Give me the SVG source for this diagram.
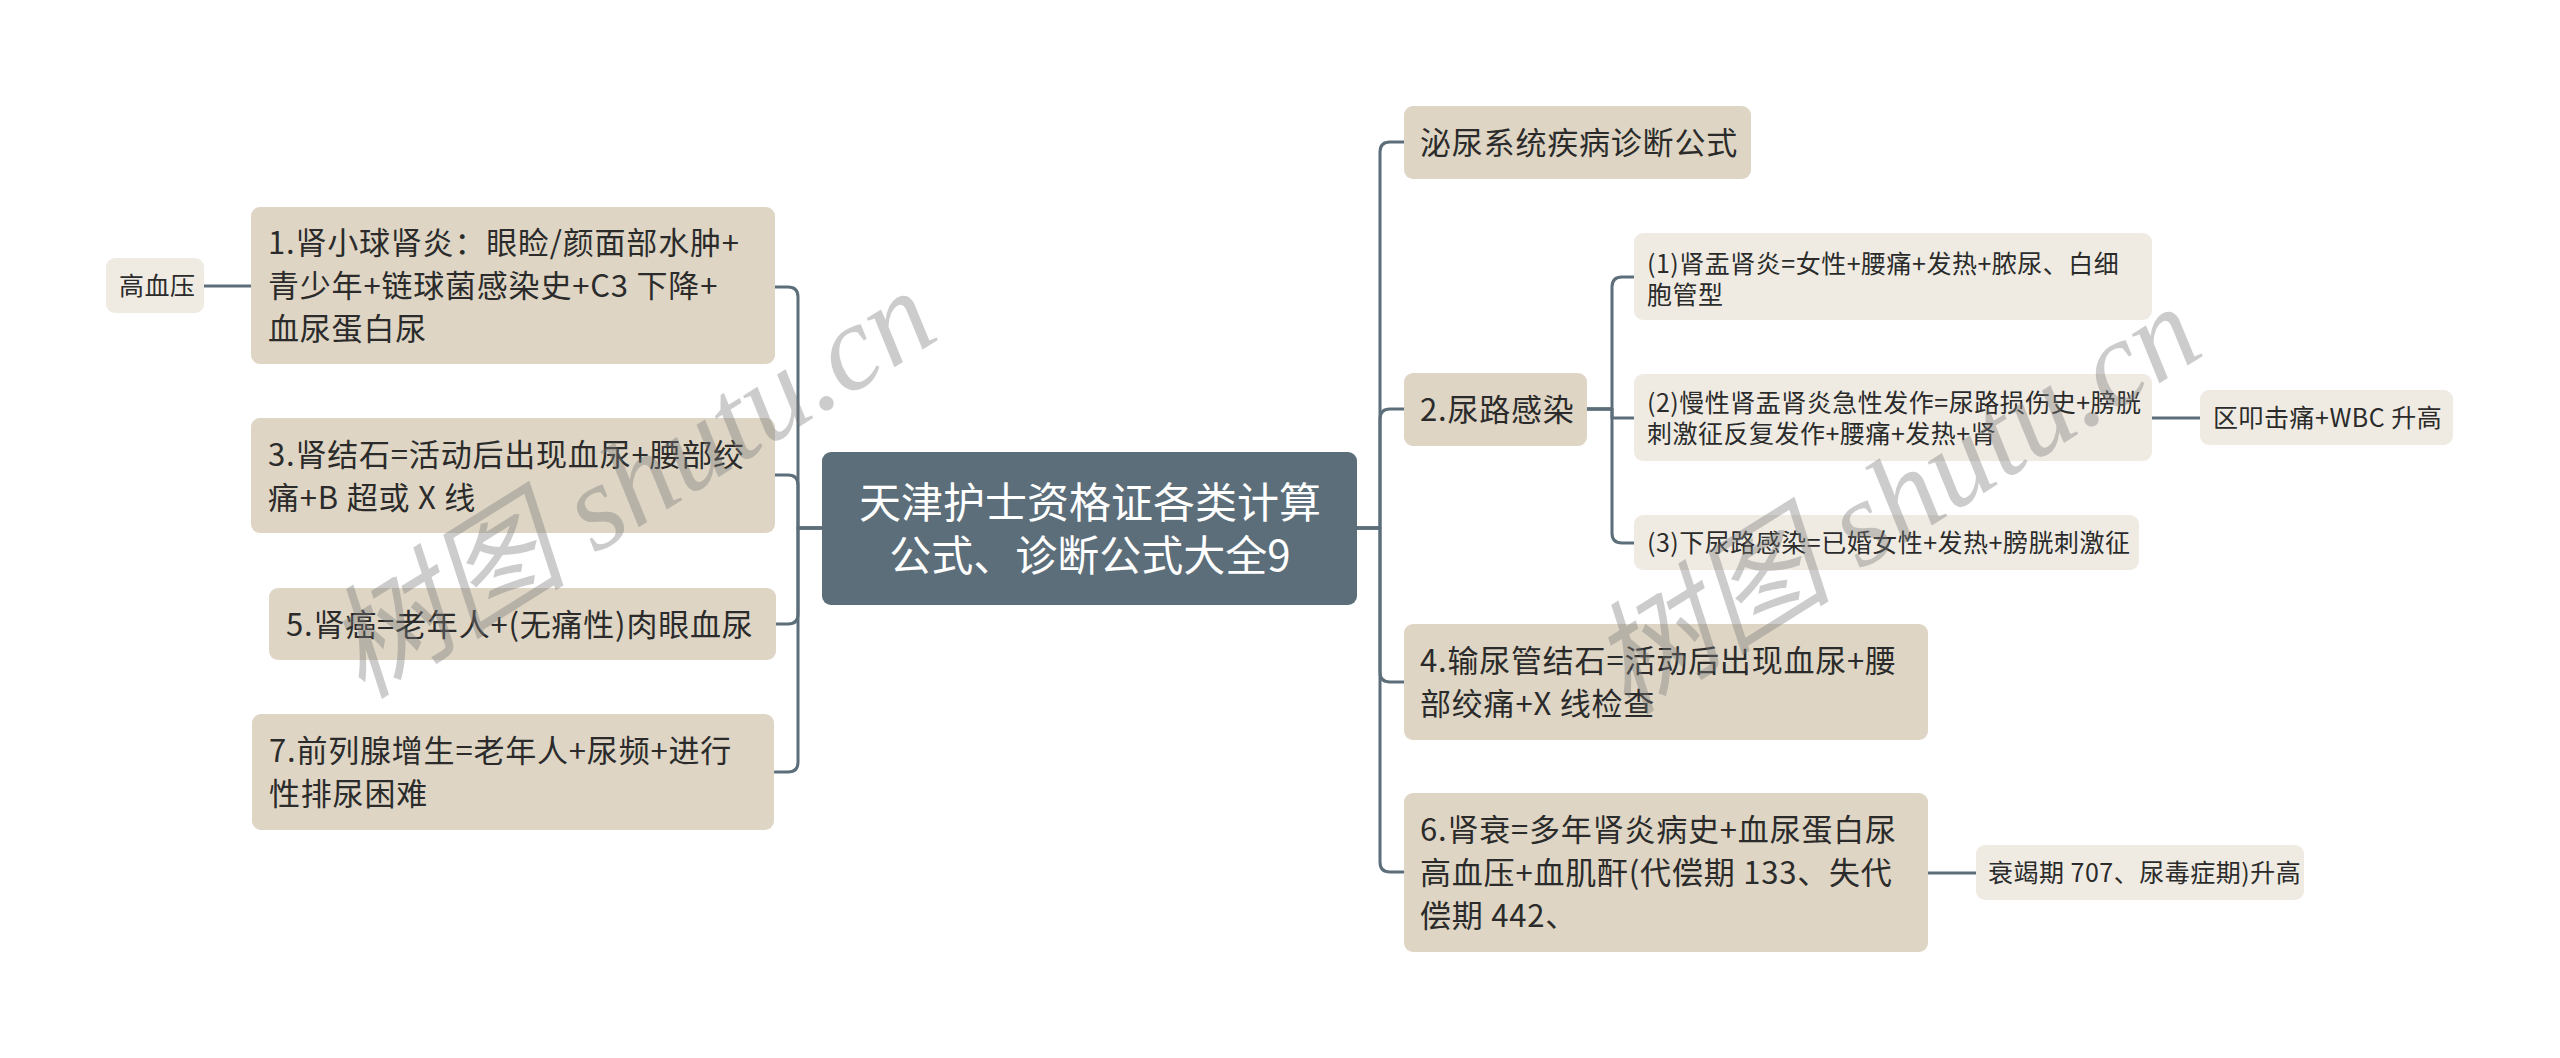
<svg xmlns="http://www.w3.org/2000/svg" width="2560" height="1058" viewBox="0 0 2560 1058">
<style>
.l1{fill:#ded5c4}
.l2{fill:#efebe3}
.root{fill:#5c6e7a}
.t1{font-family:"Noto Sans CJK SC","Noto Sans",sans-serif;font-size:31px;letter-spacing:0.8px;fill:#2b2b2b}
.t2{font-family:"Noto Sans CJK SC","Noto Sans",sans-serif;font-size:25px;letter-spacing:0.5px;fill:#2b2b2b}
.t0{font-family:"Noto Sans CJK SC","Noto Sans",sans-serif;font-size:42px;fill:#ffffff;text-anchor:middle}
.c{fill:none;stroke:#5c6e7a;stroke-width:3;stroke-linecap:round;stroke-linejoin:round}
.wm{font-family:"Liberation Serif","Noto Sans CJK SC",serif;font-style:italic;font-size:122px;fill:#7a7a7a;opacity:0.38}
</style>
<rect width="2560" height="1058" fill="#ffffff"/>
<g id="connectors">
<path class="c" d="M822,528 H798 V297 Q798,287 788,287 H775"/>
<path class="c" d="M822,528 H798 V485 Q798,475 788,475 H775"/>
<path class="c" d="M822,528 H798 V614 Q798,624 788,624 H775"/>
<path class="c" d="M822,528 H798 V762 Q798,772 788,772 H775"/>
<path class="c" d="M251,286 H204"/>
<path class="c" d="M1357,528 H1380 V152 Q1380,142 1390,142 H1404"/>
<path class="c" d="M1357,528 H1380 V419 Q1380,409 1390,409 H1404"/>
<path class="c" d="M1357,528 H1380 V672 Q1380,682 1390,682 H1404"/>
<path class="c" d="M1357,528 H1380 V862 Q1380,872 1390,872 H1404"/>
<path class="c" d="M1587,409 H1612 V287 Q1612,277 1622,277 H1634"/>
<path class="c" d="M1587,409 H1612 V418 H1634"/>
<path class="c" d="M1587,409 H1612 V533 Q1612,543 1622,543 H1634"/>
<path class="c" d="M2152,418 H2200"/>
<path class="c" d="M1928,873 H1976"/>
</g>
<g id="root">
<rect class="root" x="822" y="452" width="535" height="153" rx="9"/>
<text class="t0" x="1090" y="517.5">天津护士资格证各类计算</text>
<text class="t0" x="1090" y="571">公式、诊断公式大全9</text>
</g>
<g id="n1">
<rect class="l1" x="251" y="207" width="524" height="157" rx="9"/>
<text class="t1" x="268" y="254">1.肾小球肾炎：眼睑/颜面部水肿+</text>
<text class="t1" x="268" y="297">青少年+链球菌感染史+C3 下降+</text>
<text class="t1" x="268" y="340">血尿蛋白尿</text>
</g>
<g id="n1a">
<rect class="l2" x="106" y="258" width="98" height="55" rx="9"/>
<text class="t2" x="119" y="294.5">高血压</text>
</g>
<g id="n3">
<rect class="l1" x="251" y="418" width="524" height="115" rx="9"/>
<text class="t1" x="268" y="466">3.肾结石=活动后出现血尿+腰部绞</text>
<text class="t1" x="268" y="509">痛+B 超或 X 线</text>
</g>
<g id="n5">
<rect class="l1" x="269" y="588" width="507" height="72" rx="9"/>
<text class="t1" x="286" y="635.5">5.肾癌=老年人+(无痛性)肉眼血尿</text>
</g>
<g id="n7">
<rect class="l1" x="252" y="714" width="522" height="116" rx="9"/>
<text class="t1" x="269" y="762">7.前列腺增生=老年人+尿频+进行</text>
<text class="t1" x="269" y="805">性排尿困难</text>
</g>
<g id="r0">
<rect class="l1" x="1404" y="106" width="347" height="73" rx="9"/>
<text class="t1" x="1420" y="154">泌尿系统疾病诊断公式</text>
</g>
<g id="r2">
<rect class="l1" x="1404" y="373" width="183" height="73" rx="9"/>
<text class="t1" x="1420" y="421">2.尿路感染</text>
</g>
<g id="r2a">
<rect class="l2" x="1634" y="233" width="518" height="87" rx="9"/>
<text class="t2" x="1647" y="272.5">(1)肾盂肾炎=女性+腰痛+发热+脓尿、白细</text>
<text class="t2" x="1647" y="303.5">胞管型</text>
</g>
<g id="r2b">
<rect class="l2" x="1634" y="374" width="518" height="87" rx="9"/>
<text class="t2" x="1647" y="412">(2)慢性肾盂肾炎急性发作=尿路损伤史+膀胱</text>
<text class="t2" x="1647" y="443">刺激征反复发作+腰痛+发热+肾</text>
</g>
<g id="r2b1">
<rect class="l2" x="2200" y="390" width="253" height="55" rx="9"/>
<text class="t2" x="2213" y="427">区叩击痛+WBC 升高</text>
</g>
<g id="r2c">
<rect class="l2" x="1634" y="515" width="505" height="55" rx="9"/>
<text class="t2" x="1647" y="552">(3)下尿路感染=已婚女性+发热+膀胱刺激征</text>
</g>
<g id="r4">
<rect class="l1" x="1404" y="624" width="524" height="116" rx="9"/>
<text class="t1" x="1420" y="672">4.输尿管结石=活动后出现血尿+腰</text>
<text class="t1" x="1420" y="715">部绞痛+X 线检查</text>
</g>
<g id="r6">
<rect class="l1" x="1404" y="793" width="524" height="159" rx="9"/>
<text class="t1" x="1420" y="841">6.肾衰=多年肾炎病史+血尿蛋白尿</text>
<text class="t1" x="1420" y="884">高血压+血肌酐(代偿期 133、失代</text>
<text class="t1" x="1420" y="927">偿期 442、</text>
</g>
<g id="r6a">
<rect class="l2" x="1976" y="845" width="328" height="55" rx="9"/>
<text class="t2" x="1988" y="882">衰竭期 707、尿毒症期)升高</text>
</g>
<g id="watermarks">
<text class="wm" transform="translate(362,700) rotate(-32)">树图 shutu.cn</text>
<text class="wm" transform="translate(1627,716) rotate(-32)">树图 shutu.cn</text>
</g>
</svg>
